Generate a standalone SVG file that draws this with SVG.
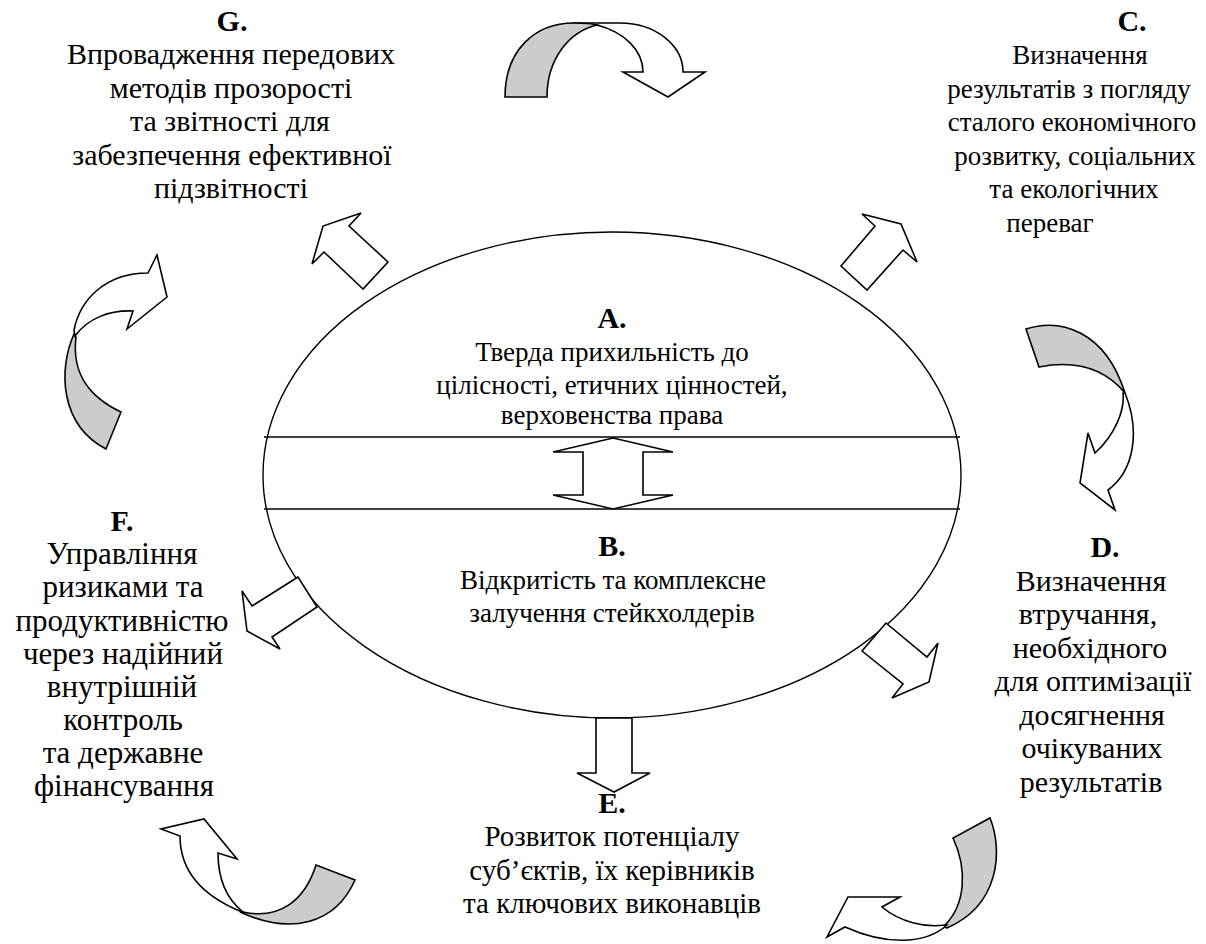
<svg xmlns="http://www.w3.org/2000/svg" width="1206" height="944" viewBox="0 0 1206 944">
  <style>
    text { font-family: "Liberation Serif", "Tinos", "Times New Roman", "DejaVu Serif", serif; font-size: 30px; fill: #000; text-anchor: middle; }
    .key { font-weight: bold; font-size: 30px; }
    .inner { font-size: 27px; }
    .c-text { font-size: 27px; }
    .e-text { font-size: 29px; }
    .f-text { font-size: 31px; }
    .shape { fill: #fff; stroke: #000; stroke-width: 1.6; stroke-linejoin: miter; }
    .shade { fill: #cccccc; stroke: #000; stroke-width: 1.6; }
    .line { fill: none; stroke: #000; stroke-width: 1.4; }
  </style>

  <!-- central oval with the A/B band -->
  <g id="core">
    <ellipse class="line" cx="612" cy="475" rx="349" ry="243"/>
    <line class="line" x1="264" y1="437" x2="960" y2="437"/>
    <line class="line" x1="264" y1="509" x2="960" y2="509"/>
    <polygon class="shape" points="613,438 673,452 643,452 643,495 673,495 613,509 553,495 583,495 583,452 553,452"/>
  </g>

  <g id="node-a">
    <text class="key" x="612" y="328">A.</text>
    <text class="inner" x="612" y="361">Тверда прихильність до</text>
    <text class="inner" x="612" y="394">цілісності, етичних цінностей,</text>
    <text class="inner" x="612" y="424">верховенства права</text>
  </g>

  <g id="node-b">
    <text class="key" x="612" y="556">B.</text>
    <text class="inner" x="613" y="589">Відкритість та комплексне</text>
    <text class="inner" x="612" y="622">залучення стейкхолдерів</text>
  </g>

  <g id="node-c">
    <text class="key" x="1132" y="31">C.</text>
    <text class="c-text" x="1080" y="64">Визначення</text>
    <text class="c-text" x="1069" y="98">результатів з погляду</text>
    <text class="c-text" x="1072" y="131">сталого економічного</text>
    <text class="c-text" x="1075" y="165">розвитку, соціальних</text>
    <text class="c-text" x="1074" y="198">та екологічних</text>
    <text class="c-text" x="1050" y="232">переваг</text>
  </g>

  <g id="node-d">
    <text class="key" x="1105" y="557">D.</text>
    <text x="1091" y="591">Визначення</text>
    <text x="1088" y="624">втручання,</text>
    <text x="1090" y="658">необхідного</text>
    <text x="1093" y="691">для оптимізації</text>
    <text x="1092" y="725">досягнення</text>
    <text x="1092" y="758">очікуваних</text>
    <text x="1091" y="792">результатів</text>
  </g>

  <g id="node-e">
    <text class="key" x="612" y="813">E.</text>
    <text class="e-text" x="612" y="846">Розвиток потенціалу</text>
    <text class="e-text" x="612" y="880">суб’єктів, їх керівників</text>
    <text class="e-text" x="612" y="913">та ключових виконавців</text>
  </g>

  <g id="node-f">
    <text class="key" x="122" y="531">F.</text>
    <text class="f-text" x="122" y="564">Управління</text>
    <text class="f-text" x="123" y="597">ризиками та</text>
    <text class="f-text" x="122" y="631">продуктивністю</text>
    <text class="f-text" x="123" y="664">через надійний</text>
    <text class="f-text" x="122" y="697">внутрішній</text>
    <text class="f-text" x="123" y="730">контроль</text>
    <text class="f-text" x="123" y="763">та державне</text>
    <text class="f-text" x="124" y="796">фінансування</text>
  </g>

  <g id="node-g">
    <text class="key" x="232" y="31">G.</text>
    <text x="231" y="64">Впровадження передових</text>
    <text x="231" y="98">методів прозорості</text>
    <text x="230" y="131">та звітності для</text>
    <text x="232" y="165">забезпечення ефективної</text>
    <text x="231" y="198">підзвітності</text>
  </g>

  <!-- straight block arrows leaving the oval, and curved cycle arrows between the outer nodes -->
  <g id="connectors">
    <polygon class="shape" points="363,289 324,252 312,264 323,226 361,213 349,226 388,262"/>
    <polygon class="shape" points="841,266 875,226 862,214 901,224 917,262 903,250 867,290"/>
    <polygon class="shape" points="886,623 927,657 938,643 929,682 892,698 903,684 862,651"/>
    <polygon class="shape" points="596,718 596,773 577,773 614,792 650,773 632,773 632,718"/>
    <polygon class="shape" points="298,577 252,606 242,591 247,631 280,649 272,637 317,607"/>

    <!-- G to C, over the top -->
    <path class="shape" d="M572,23 L620,23 C655,23 683,45 683,72 L705,72 L668,97 L623,72 L643,72 C643,50 624,32 597,25 Z"/>
    <path class="shade" d="M505,97 C505,50 535,23 574,23 C590,23 597,25 597,25 C568,32 547,60 547,97 Z"/>

    <!-- C to D, right side -->
    <path class="shade" d="M1026,329 C1060,318 1105,330 1125,393 C1110,375 1085,358 1039,367 Z"/>
    <path class="shape" d="M1125,393 C1140,430 1135,470 1108,490 L1115,510 L1080,483 L1088,433 L1095,453 C1115,435 1125,410 1123,393 Z"/>

    <!-- D to E, bottom right -->
    <path class="shade" d="M990,818 C1003,850 1000,905 947,928 C942,927 945,925 945,925 C965,905 968,870 953,838 Z"/>
    <path class="shape" d="M947,925 C925,945 885,945 845,927 L827,937 L848,897 L900,897 L882,907 C900,922 925,928 945,925 Z"/>

    <!-- E to F, bottom left -->
    <path class="shade" d="M355,880 C335,925 290,935 240,912 L243,912 C280,920 305,900 316,865 Z"/>
    <path class="shape" d="M242,912 C200,895 180,870 180,836 L161,829 L204,819 L237,859 L218,853 C218,880 228,900 243,912 Z"/>

    <!-- F to G, left side -->
    <path class="shade" d="M74,334 C58,370 60,425 106,449 L121,412 C85,395 72,370 76,337 Z"/>
    <path class="shape" d="M74,330 C80,300 105,273 148,273 L157,255 L167,297 L127,329 L133,311 C110,310 88,318 75,336 Z"/>
  </g>
</svg>
